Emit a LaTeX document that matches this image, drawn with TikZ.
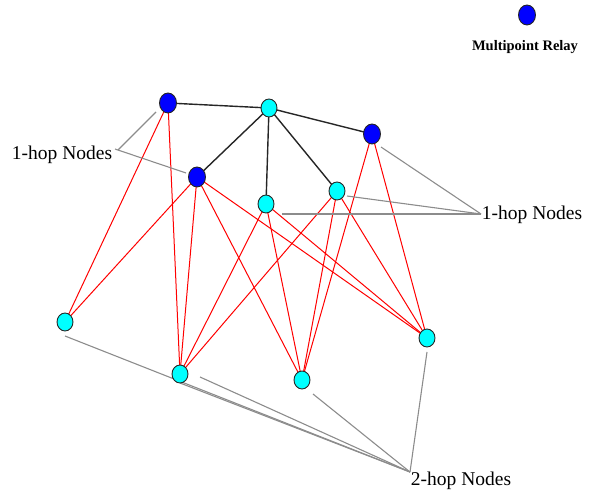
\documentclass[tikz,border=0pt]{standalone}
\usepackage{fontspec}
\setmainfont{Liberation Serif}
\usetikzlibrary{shapes.geometric,backgrounds}
\definecolor{relayblue}{RGB}{0,0,255}
\definecolor{hopcyan}{RGB}{0,255,255}
\definecolor{guidegray}{RGB}{140,140,140}
\tikzset{
  station/.style={ellipse,draw=black!85,line width=0.9pt,minimum width=16pt,minimum height=18pt,inner sep=0pt},
  relay/.style={station,fill=relayblue,minimum width=17pt,minimum height=20pt},
  hop/.style={station,fill=hopcyan},
  tree/.style={draw=black!85,line width=1.4pt},
  reach/.style={draw=red,line width=1pt},
  guide/.style={draw=guidegray,line width=1.1pt},
  caption/.style={font=\fontsize{19.5}{21}\selectfont,inner sep=0pt}
}
\begin{document}
\begin{tikzpicture}[x=1pt,y=-1pt]
\useasboundingbox (0,0) rectangle (590,492);

% legend
\node[relay] (leg) at (527,15) {};
\node[font=\bfseries\fontsize{14.5}{16}\selectfont,inner sep=0pt] (legtext) at (525,47) {Multipoint Relay};

% relays and their neighbours
\node[relay] (A) at (168,103) {};
\node[hop]   (C) at (269,108) {};
\node[relay] (B) at (372,134) {};
\node[relay] (D) at (197,177) {};
\node[hop]   (E) at (266,204) {};
\node[hop]   (F) at (337,191) {};
% two-hop neighbours
\node[hop] (G) at (65,322) {};
\node[hop] (H) at (180,374) {};
\node[hop] (I) at (302,380) {};
\node[hop] (J) at (427,338) {};

% captions
\node[caption] (lhop) at (62,155) {1-hop Nodes};
\node[caption] (rhop) at (532,215) {1-hop Nodes};
\node[caption] (thop) at (461,481) {2-hop Nodes};

% guide line end points
\coordinate (lA) at (118,150);
\coordinate (lD) at (115,149);
\coordinate (pA) at (156,112);
\coordinate (pD) at (186,173);
\coordinate (rj) at (481,214);
\coordinate (pB) at (381,147);
\coordinate (pF) at (347,196);
\coordinate (pE) at (282,214);
\coordinate (bj) at (410,472);
\coordinate (pG) at (65,336);
\coordinate (pH) at (180,383);
\coordinate (pH2) at (200,377);
\coordinate (pI) at (313,394);
\coordinate (pJ) at (427,352);

\begin{pgfonlayer}{background}
  % two-hop coverage
  \draw[reach] (A.center) -- (G.center);
  \draw[reach] (A.center) -- (H.center);
  \draw[reach] (D.center) -- (G.center);
  \draw[reach] (D.center) -- (H.center);
  \draw[reach] (D.center) -- (I.center);
  \draw[reach] (D.center) -- (J.center);
  \draw[reach] (E.center) -- (H.center);
  \draw[reach] (E.center) -- (I.center);
  \draw[reach] (E.center) -- (J.center);
  \draw[reach] (F.center) -- (H.center);
  \draw[reach] (F.center) -- (I.center);
  \draw[reach] (F.center) -- (J.center);
  \draw[reach] (B.center) -- (I.center);
  \draw[reach] (B.center) -- (J.center);
  % one-hop links
  \draw[tree] (A.center) -- (C.center);
  \draw[tree] (C.center) -- (B.center);
  \draw[tree] (C.center) -- (D.center);
  \draw[tree] (C.center) -- (E.center);
  \draw[tree] (C.center) -- (F.center);
  % caption leaders
  \draw[guide] (lA) -- (pA);
  \draw[guide] (lD) -- (pD);
  \draw[guide] (rj) -- (pB);
  \draw[guide] (rj) -- (pF);
  \draw[guide] (rj) -- (pE);
  \draw[guide] (bj) -- (pG);
  \draw[guide] (bj) -- (pH);
  \draw[guide] (bj) -- (pH2);
  \draw[guide] (bj) -- (pI);
  \draw[guide] (bj) -- (pJ);
\end{pgfonlayer}
\end{tikzpicture}
\end{document}
